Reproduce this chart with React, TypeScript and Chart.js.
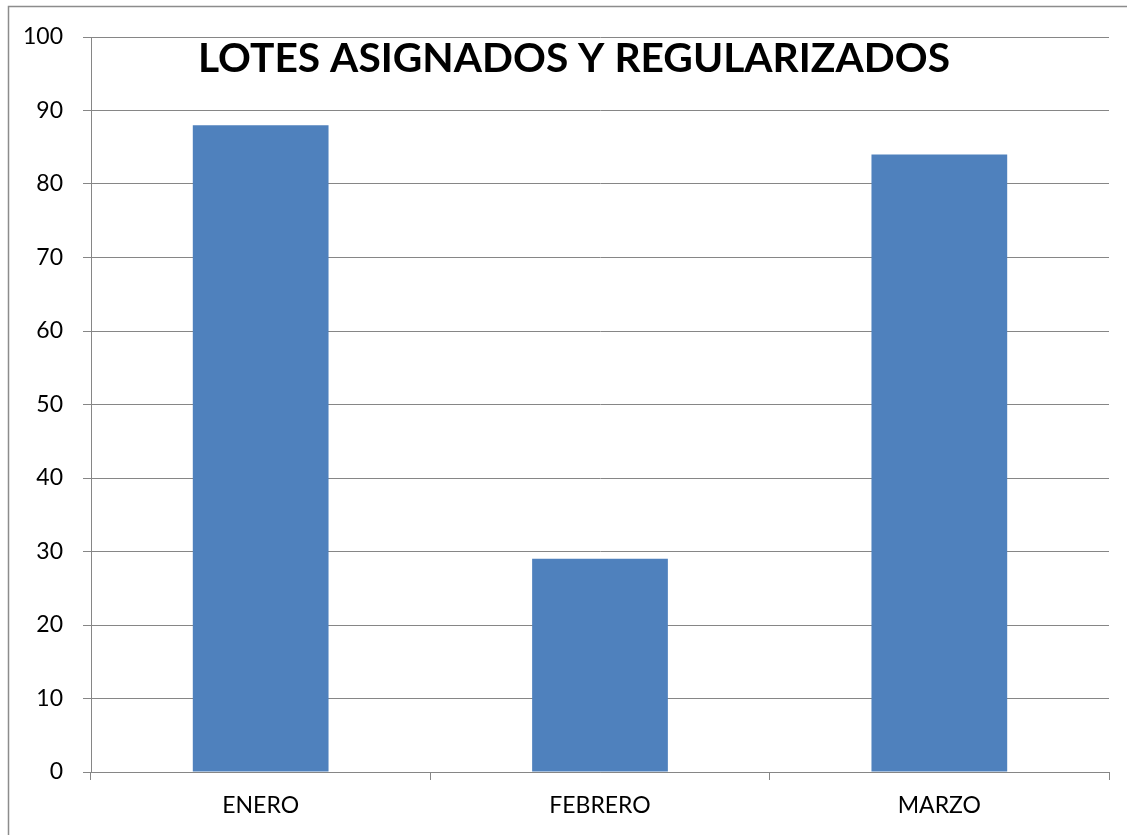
import React, { useEffect, useRef } from "react";
import { Chart, registerables } from "chart.js";

Chart.register(...registerables);

const categories = ["ENERO", "FEBRERO", "MARZO"];
const values = [88, 29, 84];
const chartTitle = "LOTES ASIGNADOS Y REGULARIZADOS";
const yMin = 0;
const yMax = 100;
const yStep = 10;

const FONT = "Lato, 'Open Sans', sans-serif";
const GRID = "#868686";

const decorPlugin = {
  id: "decor",
  afterDraw(chart: any) {
    const ctx = chart.ctx;
    ctx.save();
    // outer frame (left + top edges visible)
    ctx.strokeStyle = "#8c8c8c";
    ctx.lineWidth = 1.5;
    ctx.beginPath();
    ctx.moveTo(8.5, chart.height);
    ctx.lineTo(8.5, 6.5);
    ctx.lineTo(chart.width, 6.5);
    ctx.stroke();
    // title inside plot area, condensed to match the reference width
    const target = 752;
    const size = 41;
    ctx.font = `bold ${size}px ${FONT}`;
    const w = ctx.measureText(chartTitle).width;
    const sx = target / w;
    ctx.fillStyle = "#000";
    ctx.textAlign = "left";
    ctx.textBaseline = "alphabetic";
    ctx.translate(198, 71.5);
    ctx.scale(sx, 1);
    ctx.fillText(chartTitle, 0, 0);
    ctx.restore();
  },
};

export default function App() {
  const ref = useRef<HTMLCanvasElement | null>(null);
  useEffect(() => {
    document.body.style.margin = "0";
    document.documentElement.style.overflow = "hidden";
    const canvas = ref.current!;
    const chart = new Chart(canvas, {
      type: "bar",
      data: {
        labels: categories,
        datasets: [
          {
            data: values,
            backgroundColor: "#4F81BD",
            borderWidth: 0,
            barPercentage: 0.4,
            categoryPercentage: 1,
          },
        ],
      },
      options: {
        animation: false,
        responsive: false,
        devicePixelRatio: 1,
        layout: { padding: { left: 0, right: 18, top: 37, bottom: 0 } },
        plugins: {
          legend: { display: false },
          title: { display: false },
          tooltip: { enabled: false },
        },
        scales: {
          x: {
            afterFit(scale: any) {
              scale.height = 63;
            },
            grid: {
              display: true,
              offset: true,
              drawOnChartArea: false,
              drawTicks: true,
              tickLength: 8,
              color: GRID,
            },
            border: { display: true, color: GRID, width: 1 },
            ticks: {
              color: "#000",
              font: { family: FONT, size: 23 },
              padding: 12,
            },
          },
          y: {
            min: yMin,
            max: yMax,
            afterFit(scale: any) {
              scale.width = 91;
            },
            grid: {
              color: GRID,
              tickLength: 8,
              drawTicks: true,
            },
            border: { display: true, color: GRID, width: 1 },
            ticks: {
              stepSize: yStep,
              color: "#000",
              font: { family: FONT, size: 23 },
              padding: 20,
            },
          },
        },
      },
      plugins: [decorPlugin],
    });
    return () => chart.destroy();
  }, []);
  return (
    <div style={{ width: 1127, height: 835, position: "relative", overflow: "hidden" }}>
      <canvas ref={ref} width={1127} height={835} style={{ display: "block" }} />
    </div>
  );
}
